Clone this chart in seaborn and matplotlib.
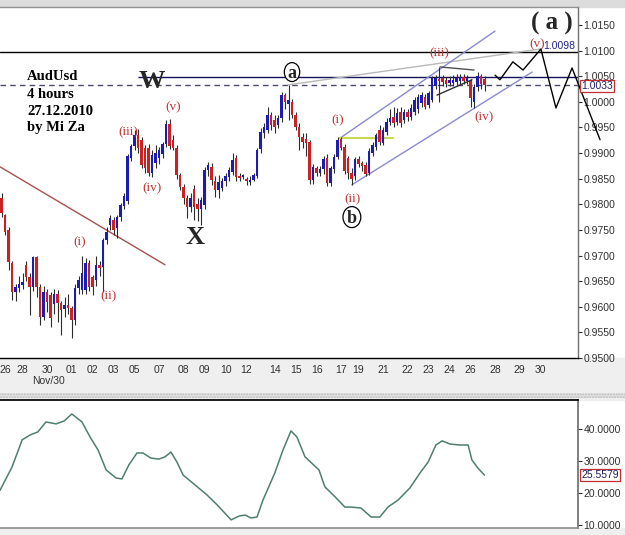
import numpy as np
import pandas as pd
import matplotlib
matplotlib.use("Agg")
import matplotlib.pyplot as plt
import matplotlib.transforms as mtransforms
from matplotlib.patches import Rectangle, Ellipse
import seaborn as sns

# AUDUSD 4h bars, index 0 = first bar on screen (late Oct 2010)
opens = [0.9812, 0.9779, 0.9750, 0.9685, 0.9629, 0.9636, 0.9642, 0.9681, 0.9658, 0.9639,
         0.9697, 0.9639, 0.9580, 0.9629, 0.9623, 0.9605, 0.9625, 0.9607, 0.9595, 0.9604,
         0.9597, 0.9574, 0.9637, 0.9633, 0.9633, 0.9685, 0.9658, 0.9652, 0.9681, 0.9677,
         0.9730, 0.9759, 0.9769, 0.9753, 0.9775, 0.9796, 0.9806, 0.9890, 0.9913, 0.9936,
         0.9926, 0.9910, 0.9910, 0.9862, 0.9880, 0.9890, 0.9898, 0.9917, 0.9957, 0.9925,
         0.9910, 0.9857, 0.9834, 0.9812, 0.9795, 0.9830, 0.9800, 0.9790, 0.9798, 0.9867,
         0.9873, 0.9845, 0.9828, 0.9832, 0.9845, 0.9853, 0.9863, 0.9890, 0.9855, 0.9854,
         0.9850, 0.9844, 0.9848, 0.9856, 0.9908, 0.9940, 0.9945, 0.9974, 0.9965, 0.9955,
         0.9968, 1.0013, 0.9995, 1.0000, 0.9974, 0.9951, 0.9932, 0.9928, 0.9922, 0.9847,
         0.9870, 0.9862, 0.9868, 0.9890, 0.9842, 0.9868, 0.9892, 0.9928, 0.9912, 0.9890,
         0.9862, 0.9855, 0.9888, 0.9880, 0.9876, 0.9862, 0.9900, 0.9912, 0.9945, 0.9920,
         0.9941, 0.9961, 0.9970, 0.9961, 0.9980, 0.9965, 0.9980, 0.9970, 0.9980, 0.9985,
         0.9998, 1.0010, 0.9994, 1.0004, 1.0030, 1.0045, 1.0047, 1.0043, 1.0036, 1.0036,
         1.0038, 1.0040, 1.0048, 1.0040, 1.0040, 1.0000, 1.0029, 1.0050, 1.0045]
closes = [0.9783, 0.9746, 0.9687, 0.9629, 0.9638, 0.9645, 0.9648, 0.9658, 0.9639, 0.9697,
          0.9639, 0.9580, 0.9629, 0.9609, 0.9578, 0.9625, 0.9607, 0.9593, 0.9604, 0.9597,
          0.9574, 0.9637, 0.9652, 0.9666, 0.9685, 0.9639, 0.9639, 0.9681, 0.9676, 0.9730,
          0.9746, 0.9773, 0.9750, 0.9775, 0.9798, 0.9816, 0.9894, 0.9913, 0.9936, 0.9909,
          0.9876, 0.9870, 0.9862, 0.9896, 0.9900, 0.9906, 0.9917, 0.9957, 0.9914, 0.9910,
          0.9857, 0.9834, 0.9812, 0.9795, 0.9812, 0.9795, 0.9790, 0.9808, 0.9867, 0.9877,
          0.9847, 0.9828, 0.9843, 0.9845, 0.9855, 0.9867, 0.9886, 0.9853, 0.9852, 0.9856,
          0.9846, 0.9848, 0.9858, 0.9905, 0.9942, 0.9950, 0.9974, 0.9955, 0.9951, 0.9968,
          1.0013, 1.0000, 1.0003, 0.9974, 0.9951, 0.9932, 0.9922, 0.9920, 0.9847, 0.9872,
          0.9862, 0.9868, 0.9888, 0.9842, 0.9870, 0.9892, 0.9925, 0.9910, 0.9865, 0.9862,
          0.9850, 0.9888, 0.9878, 0.9874, 0.9860, 0.9904, 0.9916, 0.9935, 0.9922, 0.9945,
          0.9961, 0.9969, 0.9958, 0.9978, 0.9958, 0.9980, 0.9970, 0.9988, 1.0004, 1.0010,
          1.0013, 0.9990, 1.0017, 1.0047, 1.0047, 1.0040, 1.0038, 1.0034, 1.0042, 1.0043,
          1.0046, 1.0048, 1.0040, 1.0046, 1.0007, 1.0029, 1.0050, 1.0035, 1.0033]
highs = [0.9822, 0.9782, 0.9755, 0.9690, 0.9645, 0.9660, 0.9665, 0.9690, 0.9665, 0.9700,
         0.9700, 0.9645, 0.9640, 0.9635, 0.9628, 0.9635, 0.9632, 0.9612, 0.9620, 0.9625,
         0.9602, 0.9645, 0.9660, 0.9700, 0.9695, 0.9692, 0.9662, 0.9700, 0.9690, 0.9735,
         0.9755, 0.9779, 0.9775, 0.9780, 0.9802, 0.9822, 0.9898, 0.9918, 0.9945, 0.9946,
         0.9932, 0.9915, 0.9918, 0.9905, 0.9915, 0.9912, 0.9922, 0.9964, 0.9966, 0.9935,
         0.9915, 0.9862, 0.9840, 0.9818, 0.9822, 0.9838, 0.9812, 0.9815, 0.9872, 0.9882,
         0.9880, 0.9855, 0.9858, 0.9852, 0.9862, 0.9872, 0.9900, 0.9897, 0.9862, 0.9860,
         0.9853, 0.9856, 0.9862, 0.9910, 0.9948, 0.9958, 0.9990, 0.9980, 0.9975, 0.9975,
         1.0020, 1.0018, 1.0033, 1.0005, 0.9980, 0.9958, 0.9940, 0.9940, 0.9925, 0.9878,
         0.9875, 0.9875, 0.9895, 0.9898, 0.9875, 0.9898, 0.9932, 0.9932, 0.9918, 0.9895,
         0.9870, 0.9892, 0.9895, 0.9885, 0.9882, 0.9910, 0.9922, 0.9940, 0.9955, 0.9950,
         0.9968, 0.9985, 0.9990, 0.9988, 0.9990, 0.9985, 0.9985, 0.9995, 1.0010, 1.0015,
         1.0020, 1.0015, 1.0022, 1.0050, 1.0052, 1.0068, 1.0052, 1.0048, 1.0050, 1.0052,
         1.0055, 1.0055, 1.0055, 1.0052, 1.0045, 1.0035, 1.0058, 1.0055, 1.0050]
lows = [0.9775, 0.9740, 0.9672, 0.9613, 0.9612, 0.9628, 0.9635, 0.9650, 0.9584, 0.9630,
        0.9620, 0.9564, 0.9575, 0.9590, 0.9560, 0.9585, 0.9570, 0.9545, 0.9580, 0.9585,
        0.9539, 0.9565, 0.9625, 0.9625, 0.9625, 0.9630, 0.9622, 0.9640, 0.9660, 0.9629,
        0.9722, 0.9750, 0.9740, 0.9735, 0.9768, 0.9790, 0.9800, 0.9885, 0.9905, 0.9900,
        0.9870, 0.9862, 0.9855, 0.9853, 0.9870, 0.9878, 0.9890, 0.9912, 0.9908, 0.9905,
        0.9850, 0.9828, 0.9800, 0.9773, 0.9785, 0.9770, 0.9768, 0.9760, 0.9790, 0.9855,
        0.9838, 0.9815, 0.9813, 0.9825, 0.9835, 0.9845, 0.9858, 0.9845, 0.9845, 0.9850,
        0.9838, 0.9838, 0.9845, 0.9852, 0.9900, 0.9930, 0.9940, 0.9945, 0.9940, 0.9948,
        0.9960, 0.9985, 0.9965, 0.9968, 0.9945, 0.9905, 0.9910, 0.9895, 0.9840, 0.9840,
        0.9855, 0.9855, 0.9860, 0.9835, 0.9835, 0.9862, 0.9888, 0.9905, 0.9860, 0.9850,
        0.9838, 0.9848, 0.9872, 0.9865, 0.9855, 0.9858, 0.9895, 0.9905, 0.9915, 0.9915,
        0.9935, 0.9955, 0.9950, 0.9955, 0.9950, 0.9958, 0.9962, 0.9965, 0.9975, 0.9978,
        0.9990, 0.9985, 0.9988, 1.0000, 1.0025, 1.0000, 1.0030, 1.0028, 1.0030, 1.0030,
        1.0032, 1.0035, 1.0035, 1.0035, 0.9990, 0.9988, 1.0022, 1.0025, 1.0022]

# day labels on the time axis (bar index where each day starts)
day_pos = [1, 6, 13, 20, 26, 32, 38, 45, 52, 58, 64, 70, 78, 84, 90, 97, 102, 109,
           116, 122, 128, 134, 141, 148, 154]
day_labels = ["26", "28", "30", "01", "02", "03", "05", "07", "08", "09", "10", "12",
              "14", "15", "16", "17", "19", "21", "22", "23", "24", "26", "28", "29", "30"]

# oscillator in the lower pane
osc_x = [-0.4, 3.0, 5.9, 8.1, 10.4, 12.7, 15.6, 17.9, 20.1, 23.0, 25.3, 27.6, 29.9, 32.7,
         34.4, 36.4, 38.7, 40.4, 42.7, 45.0, 46.7, 48.4, 50.1, 51.9, 55.3, 58.7, 61.6,
         65.6, 67.9, 69.6, 71.3, 73.0, 74.7, 78.1, 80.4, 82.7, 84.4, 86.7, 90.7, 92.4,
         95.3, 98.1, 99.9, 102.7, 105.6, 108.1, 110.4, 113.3, 116.7, 119.6, 121.9, 124.1,
         125.9, 128.1, 131.0, 133.3, 134.4, 136.1, 138.0]
osc_y = [20.9, 28.1, 36.6, 38.1, 39.1, 42.2, 41.6, 42.5, 44.7, 42.2, 37.5, 33.4, 27.2, 24.7,
         24.4, 28.8, 32.5, 32.5, 30.9, 30.6, 31.3, 32.8, 29.7, 25.6, 22.5, 19.4, 16.3,
         11.6, 12.8, 13.1, 12.2, 12.5, 17.8, 26.3, 33.4, 39.4, 37.5, 31.3, 27.2, 21.9,
         18.8, 15.6, 15.6, 15.3, 12.5, 12.5, 15.6, 17.8, 21.6, 26.3, 29.7, 35.0,
         36.3, 35.3, 35.0, 35.0, 30.3, 27.8, 25.5579]

# hand drawn analysis lines (bar index, price)
upper_chan = ([96.7, 141.0], [0.9929, 1.0138])
lower_chan = ([100.1, 151.6], [0.9838, 1.0058])
fan_line = ([81.9, 153.9], [1.0033, 1.0103])
down_line = ([-0.4, 46.7], [0.9873, 0.9682])
wave_i_line = ([96.7, 111.9], [0.9929, 0.9929])
tri_top = ([125.3, 135.0], [1.0068, 1.0062])
tri_bot = ([124.4, 134.4], [1.0013, 1.0043])
forecast_x = [141.0, 142.4, 146.1, 149.0, 154.1, 158.4, 163.0, 171.0]
forecast_y = [1.0052, 1.0043, 1.0078, 1.0062, 1.0103, 0.9988, 1.0066, 0.9926]

df = pd.DataFrame({"open": opens, "close": closes, "high": highs, "low": lows})
df["bar"] = np.arange(len(df))
df["up"] = df["close"] >= df["open"]

sns.set_theme(style="white")
plt.rcParams["font.family"] = ["Liberation Sans", "DejaVu Sans"]
serif = ["Liberation Serif", "DejaVu Serif"]

W, H = 625, 535
fig = plt.figure(figsize=(6.25, 5.35), dpi=100)
fig.patch.set_facecolor("white")
# grey bands of the trading terminal
fig.add_artist(Rectangle((0, 1 - 7 / H), 1, 7 / H, transform=fig.transFigure,
                         color="#dcdcdc", zorder=-5))
fig.add_artist(Rectangle((0, 1 - 400 / H), 1, 42 / H, transform=fig.transFigure,
                         color="#efefef", zorder=-5))
fig.add_artist(Rectangle((0, 1 - 398 / H), 1, 5 / H, transform=fig.transFigure,
                         facecolor="#e6e6e6", edgecolor="#b8b8b8", hatch="......",
                         lw=0, zorder=-4))
fig.add_artist(Rectangle((0, 0), 1, 7 / H, transform=fig.transFigure,
                         color="#efefef", zorder=-5))

ax = fig.add_axes([0, 1 - 358 / H, 578 / W, 351 / H])
ax2 = fig.add_axes([0, 1 - 528 / H, 578 / W, 128 / H])

xlim = (-0.43, 164.7)

# candles
body_lo = np.minimum(df["open"], df["close"])
body_h = np.maximum((df["close"] - df["open"]).abs(), 0.00025)
colors = np.where(df["up"], "#1c1cb0", "#c82222")
ax.vlines(df["bar"], df["low"], df["high"], color="#2c2c2c", lw=0.8, zorder=2)
ax.bar(df["bar"], body_h, bottom=body_lo, width=0.8, color=colors, lw=0, zorder=3)

# levels
ax.axhline(1.0098, color="black", lw=1, zorder=1)
ax.hlines(1.0049, 38.9, xlim[1], color="#14145a", lw=1, zorder=1)
ax.axhline(1.0033, color="#4a4a6a", lw=1, ls=(0, (4, 3)), zorder=1)

ax.plot(*fan_line, color="#b8b8b8", lw=1, zorder=1)
ax.plot(*upper_chan, color="#8a8ad0", lw=1, zorder=1)
ax.plot(*lower_chan, color="#8a8ad0", lw=1, zorder=1)
ax.plot(*down_line, color="#a85050", lw=1, zorder=1)
ax.plot(*wave_i_line, color="#c8d850", lw=1.5, zorder=1)
ax.plot(*tri_top, color="#505050", lw=1, zorder=4)
ax.plot(*tri_bot, color="#303030", lw=1, zorder=4)
ax.plot(forecast_x, forecast_y, color="black", lw=1, zorder=4, clip_on=False)

# title block
for txt, yv in zip(["AudUsd", "4 hours", "27.12.2010", "by Mi Za"],
                   [1.0050, 1.0015, 0.9982, 0.9949]):
    ax.text(7.3, yv, txt, family=serif, weight="bold", fontsize=10.5,
            color="black", va="center", ha="left")

ax.text(43.0, 1.0039, "W", family=serif, weight="bold", fontsize=19, va="center", ha="center")
ax.text(55.3, 0.9736, "X", family=serif, weight="bold", fontsize=19, va="center", ha="center")
ax.text(157.3, 1.0152, "( a )", family=serif, weight="bold", fontsize=18,
        va="center", ha="center")
# circled wave letters
for lbl, xv, yv, w, h in [("a", 83.0, 1.0058, 4.4, 0.0037), ("b", 100.1, 0.9775, 5.1, 0.0041)]:
    ax.add_patch(Ellipse((xv, yv), w, h, fc="white", ec="black", lw=0.9, zorder=5))
    ax.text(xv, yv - 0.0002, lbl, family=serif, weight="bold", fontsize=13,
            va="center", ha="center", zorder=6)

red_labels = [("(i)", 22.4, 0.9726), ("(ii)", 30.7, 0.9621), ("(iii)", 36.1, 0.9941),
              ("(iv)", 43.0, 0.9832), ("(v)", 49.0, 0.9990), ("(i)", 96.1, 0.9963),
              ("(ii)", 100.4, 0.9810), ("(iii)", 125.0, 1.0095), ("(iv)", 137.9, 0.9969),
              ("(v)", 153.0, 1.0113)]
for lbl, xv, yv in red_labels:
    ax.text(xv, yv, lbl, family=serif, fontsize=9.5, color="#c03434",
            va="center", ha="center")

ax.text(154.7, 1.0100, "1.0098", fontsize=7.5, color="#22228a", va="bottom", ha="left")

# main axis styling
ax.set_xlim(*xlim)
ax.set_ylim(0.95, 1.0185)
ax.set_facecolor("white")
ax.yaxis.tick_right()
yt = np.arange(0.95, 1.01501, 0.005)
ax.set_yticks(yt, [f"{v:.4f}" for v in yt])
ax.set_xticks(day_pos, day_labels)
ax.tick_params(axis="y", direction="out", length=3, width=0.8, pad=1,
               labelsize=7.5, colors="#303030")
ax.tick_params(axis="x", direction="out", length=3, width=0.8, pad=2,
               labelsize=7.5, colors="#303030")
ax.spines["left"].set_visible(False)
ax.spines["bottom"].set_color("black")
ax.spines["right"].set_color("#707070")
ax.spines["top"].set_color("#909090")
for s in ax.spines.values():
    s.set_linewidth(1)
trans = mtransforms.blended_transform_factory(ax.transData, ax.transAxes)
ax.text(13.3, -0.066, "Nov/30", transform=trans, fontsize=7.5, color="#303030",
        ha="center", va="center")
ytrans = mtransforms.blended_transform_factory(ax.transAxes, ax.transData)
ax.text(1.006, 1.0031, "1.0033", transform=ytrans, fontsize=7.5, color="#202060",
        va="center", ha="left", zorder=6,
        bbox=dict(boxstyle="square,pad=0.1", fc="white", ec="#c03030", lw=0.9))

# lower pane
sns.lineplot(x=osc_x, y=osc_y, ax=ax2, color="#4e7e6e", lw=1.1, legend=False)
ax2.set_xlim(*xlim)
ax2.set_ylim(9.06, 49.06)
ax2.yaxis.tick_right()
ax2.set_yticks([10, 20, 30, 40], ["10.0000", "20.0000", "30.0000", "40.0000"])
ax2.set_xticks([])
ax2.tick_params(axis="y", direction="out", length=3, width=0.8, pad=1,
                labelsize=7.5, colors="#303030")
ax2.spines["left"].set_visible(False)
ax2.spines["top"].set_color("black")
ax2.spines["right"].set_color("#707070")
ax2.spines["bottom"].set_color("#909090")
ytrans2 = mtransforms.blended_transform_factory(ax2.transAxes, ax2.transData)
ax2.text(1.006, osc_y[-1], f"{osc_y[-1]:.4f}", transform=ytrans2, fontsize=7.5,
         color="#202060", va="center", ha="left",
         bbox=dict(boxstyle="square,pad=0.1", fc="white", ec="#c03030", lw=0.9))

fig.savefig("out.png", dpi=100)
